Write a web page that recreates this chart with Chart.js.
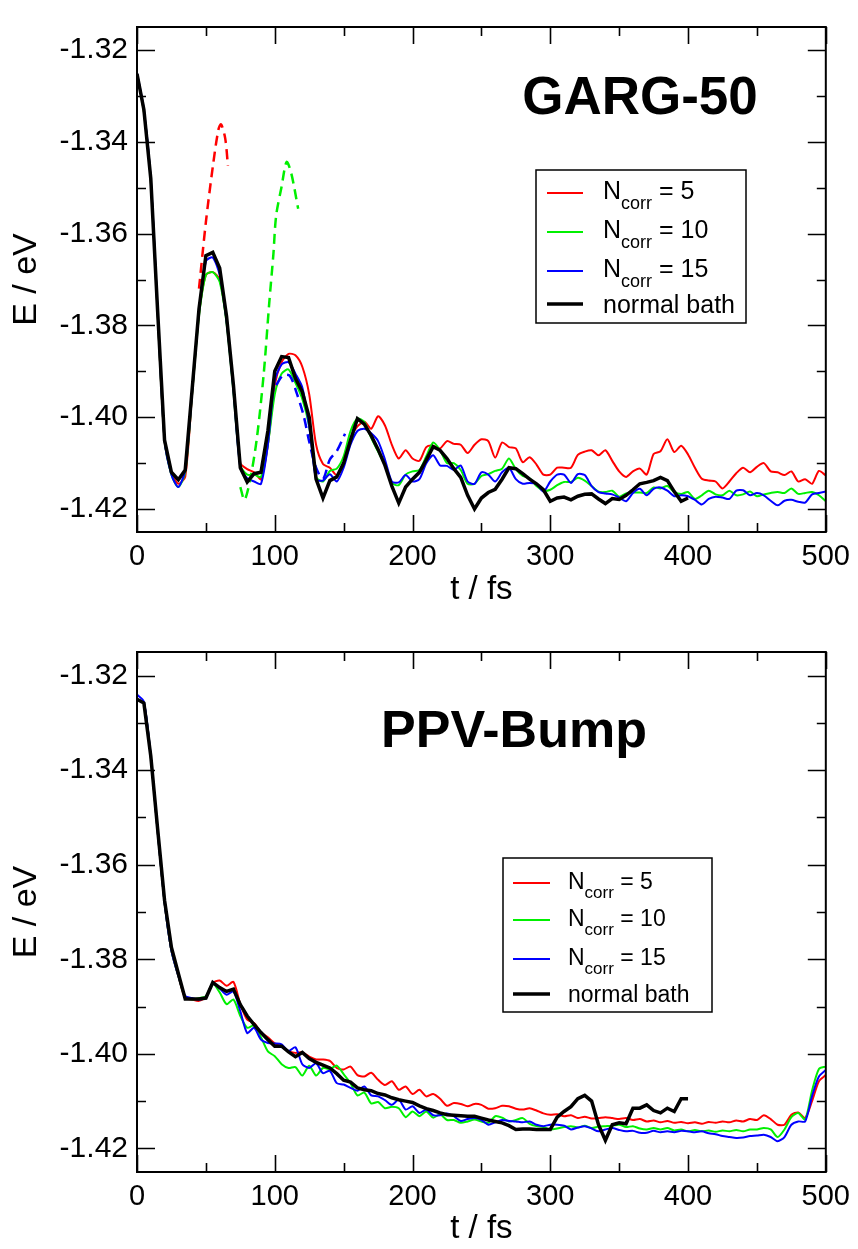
<!DOCTYPE html>
<html>
<head>
<meta charset="utf-8">
<script src="https://cdn.jsdelivr.net/npm/chart.js@4.4.1/dist/chart.umd.min.js"></script>
<style>
  html, body { margin: 0; padding: 0; background: #fff; }
  #wrap { position: relative; width: 858px; height: 1249px; }
  canvas { position: absolute; left: 0; }
</style>
</head>
<body>
<div id="wrap">
  <canvas id="gargChart" width="858" height="620" style="top:0"></canvas>
  <canvas id="ppvChart" width="858" height="629" style="top:620px"></canvas>
</div>
<script>
// time grids (fs)
function range(a, b, s) { const r = []; for (let v = a; v <= b + 1e-9; v += s) r.push(v); return r; }
const tFull = range(0, 500, 5);
const tBath = range(0, 400, 5);

const xTickVals = [0, 50, 100, 150, 200, 250, 300, 350, 400, 450, 500];
const yTickVals = [-1.42, -1.41, -1.40, -1.39, -1.38, -1.37, -1.36, -1.35, -1.34, -1.33, -1.32];

// ---- GARG-50 ----
const gargN5 = [
  -1.3252, -1.3335, -1.3485, -1.3775, -1.4050, -1.4120, -1.4145, -1.4130, -1.3950, -1.3775,
  -1.3690, -1.3684, -1.3700, -1.3790, -1.3935, -1.4100, -1.4113, -1.4120, -1.4135, -1.4060,
  -1.3930, -1.3880, -1.3862, -1.3865, -1.3890, -1.3950, -1.4060, -1.4102, -1.4110, -1.4126,
  -1.4100, -1.4045, -1.4020, -1.4010, -1.4025, -1.3998, -1.4018, -1.4060, -1.4090, -1.4072,
  -1.4090, -1.4095, -1.4065, -1.4062, -1.4068, -1.4052, -1.4058, -1.4060, -1.4078, -1.4060,
  -1.4048, -1.4052, -1.4088, -1.4055, -1.4065, -1.4068, -1.4098, -1.4087, -1.4103, -1.4125,
  -1.4125, -1.4110, -1.4110, -1.4110, -1.4082, -1.4075, -1.4072, -1.4083, -1.4072, -1.4095,
  -1.4118, -1.4130, -1.4118, -1.4112, -1.4125, -1.4080, -1.4074, -1.4048, -1.4076, -1.4062,
  -1.4081, -1.4110, -1.4134, -1.4138, -1.4140, -1.4155, -1.4140, -1.4122, -1.4110, -1.4120,
  -1.4108, -1.4100, -1.4118, -1.4120, -1.4126, -1.4118, -1.4140, -1.4135, -1.4145, -1.4117,
  -1.4127
];
const gargN10 = [
  -1.3252, -1.3335, -1.3485, -1.3775, -1.4050, -1.4125, -1.4152, -1.4120, -1.3950, -1.3780,
  -1.3690, -1.3684, -1.3705, -1.3795, -1.3945, -1.4105, -1.4125, -1.4125, -1.4130, -1.4060,
  -1.3950, -1.3905, -1.3896, -1.3925, -1.3960, -1.4020, -1.4130, -1.4140, -1.4117, -1.4112,
  -1.4085, -1.4030, -1.4003, -1.4010, -1.4045, -1.4075, -1.4105, -1.4143, -1.4148, -1.4125,
  -1.4118, -1.4115, -1.4085, -1.4055, -1.4072, -1.4100, -1.4100, -1.4115, -1.4145, -1.4145,
  -1.4128, -1.4124, -1.4117, -1.4112, -1.4090, -1.4113, -1.4128, -1.4133, -1.4150, -1.4160,
  -1.4158, -1.4148, -1.4141, -1.4141, -1.4132, -1.4138, -1.4150, -1.4162, -1.4163, -1.4160,
  -1.4173, -1.4166, -1.4164, -1.4164, -1.4165, -1.4153, -1.4155, -1.4150, -1.4163, -1.4167,
  -1.4163, -1.4178, -1.4170, -1.4160, -1.4168, -1.4170, -1.4160, -1.4170, -1.4168, -1.4162,
  -1.4172, -1.4168, -1.4165, -1.4163, -1.4165, -1.4155, -1.4167, -1.4165, -1.4163, -1.4170,
  -1.4183
];
const gargN15 = [
  -1.3250, -1.3330, -1.3480, -1.3770, -1.4050, -1.4125, -1.4152, -1.4115, -1.3945, -1.3770,
  -1.3660, -1.3652, -1.3690, -1.3790, -1.3940, -1.4110, -1.4133, -1.4140, -1.4145, -1.4060,
  -1.3920, -1.3885, -1.3880, -1.3905, -1.3935, -1.4020, -1.4135, -1.4138, -1.4124, -1.4140,
  -1.4110, -1.4060, -1.4030, -1.4025, -1.4035, -1.4052, -1.4092, -1.4140, -1.4142, -1.4126,
  -1.4140, -1.4135, -1.4100, -1.4083, -1.4105, -1.4106, -1.4115, -1.4105, -1.4140, -1.4145,
  -1.4120, -1.4125, -1.4140, -1.4120, -1.4110, -1.4135, -1.4145, -1.4143, -1.4145, -1.4162,
  -1.4140, -1.4125, -1.4125, -1.4143, -1.4124, -1.4126, -1.4150, -1.4163, -1.4166, -1.4168,
  -1.4175, -1.4183, -1.4165, -1.4156, -1.4170, -1.4156, -1.4153, -1.4160, -1.4172, -1.4170,
  -1.4172, -1.4180, -1.4190, -1.4178, -1.4173, -1.4175, -1.4178, -1.4160, -1.4159, -1.4170,
  -1.4165, -1.4170, -1.4182, -1.4192, -1.4182, -1.4180, -1.4184, -1.4186, -1.4168, -1.4165,
  -1.4162
];
const gargBath = [
  -1.3252, -1.3330, -1.3480, -1.3770, -1.4050, -1.4120, -1.4136, -1.4115, -1.3940, -1.3764,
  -1.3648, -1.3641, -1.3675, -1.3780, -1.3930, -1.4110, -1.4141, -1.4123, -1.4120, -1.4030,
  -1.3900, -1.3868, -1.3870, -1.3915, -1.3945, -1.4000, -1.4135, -1.4176, -1.4138, -1.4130,
  -1.4100, -1.4050, -1.4003, -1.4015, -1.4040, -1.4070, -1.4105, -1.4150, -1.4187, -1.4152,
  -1.4135, -1.4120, -1.4093, -1.4064, -1.4072, -1.4090, -1.4112, -1.4131, -1.4170, -1.4200,
  -1.4176, -1.4164, -1.4157, -1.4135, -1.4110, -1.4112, -1.4123, -1.4135, -1.4145, -1.4158,
  -1.4183, -1.4176, -1.4174, -1.4180, -1.4172, -1.4168, -1.4167, -1.4178, -1.4188, -1.4177,
  -1.4179, -1.4170, -1.4158, -1.4145, -1.4142, -1.4138, -1.4131, -1.4138, -1.4162, -1.4183,
  -1.4176
];
// dashed branches
const gargN5DashT = [45, 50, 55, 59, 61, 64, 66];
const gargN5Dash = [-1.3720, -1.3575, -1.3455, -1.3375, -1.3362, -1.3392, -1.3452];
const gargN10DashT = [75, 78, 82, 87, 92, 96, 99, 101, 105, 108.6, 112, 117];
const gargN10Dash = [-1.4152, -1.4180, -1.4138, -1.4046, -1.3905, -1.3751, -1.3645, -1.3561, -1.3497, -1.3444, -1.3469, -1.3546];
const gargN15DashT = [101, 106, 111, 116, 121, 125, 130, 135, 140, 145, 151];
const gargN15Dash = [-1.3930, -1.3909, -1.3910, -1.3948, -1.3997, -1.4053, -1.4110, -1.4134, -1.4092, -1.4074, -1.4036];

// ---- PPV-Bump ----
const ppvN5 = [
  -1.3250, -1.3258, -1.3372, -1.3530, -1.3680, -1.3782, -1.3835, -1.3882, -1.3885, -1.3888,
  -1.3880, -1.3850, -1.3845, -1.3856, -1.3848, -1.3895, -1.3928, -1.3935, -1.3955, -1.3965,
  -1.3978, -1.3985, -1.3995, -1.3998, -1.3997, -1.4006, -1.4012, -1.4012, -1.4015, -1.4030,
  -1.4033, -1.4027, -1.4045, -1.4048, -1.4040, -1.4055, -1.4066, -1.4058, -1.4076, -1.4069,
  -1.4085, -1.4076, -1.4090, -1.4085, -1.4095, -1.4110, -1.4104, -1.4106, -1.4111, -1.4106,
  -1.4108, -1.4116, -1.4115, -1.4110, -1.4111, -1.4116, -1.4118, -1.4115, -1.4120, -1.4126,
  -1.4129, -1.4128, -1.4132, -1.4130, -1.4136, -1.4133, -1.4137, -1.4136, -1.4134, -1.4136,
  -1.4138, -1.4136, -1.4140, -1.4138, -1.4143, -1.4141, -1.4145, -1.4142, -1.4146, -1.4144,
  -1.4147, -1.4145, -1.4148, -1.4144, -1.4146, -1.4143, -1.4145, -1.4141, -1.4143, -1.4138,
  -1.4140, -1.4130, -1.4138, -1.4150, -1.4150, -1.4129, -1.4124, -1.4136, -1.4100, -1.4058,
  -1.4045
];
const ppvN10 = [
  -1.3250, -1.3258, -1.3372, -1.3530, -1.3680, -1.3782, -1.3835, -1.3880, -1.3885, -1.3882,
  -1.3878, -1.3852, -1.3870, -1.3895, -1.3885, -1.3920, -1.3945, -1.3940, -1.3965, -1.3995,
  -1.4005, -1.4022, -1.4030, -1.4028, -1.4046, -1.4025, -1.4046, -1.4030, -1.4032, -1.4025,
  -1.4043, -1.4062, -1.4088, -1.4082, -1.4105, -1.4102, -1.4115, -1.4112, -1.4115, -1.4134,
  -1.4122, -1.4132, -1.4122, -1.4135, -1.4128, -1.4140, -1.4140, -1.4146, -1.4143, -1.4139,
  -1.4143, -1.4146, -1.4132, -1.4135, -1.4143, -1.4140, -1.4136, -1.4148, -1.4153, -1.4155,
  -1.4160, -1.4158, -1.4155, -1.4153, -1.4156, -1.4152, -1.4157, -1.4154, -1.4153, -1.4152,
  -1.4150, -1.4155, -1.4153, -1.4158, -1.4160, -1.4157, -1.4160, -1.4157, -1.4162, -1.4160,
  -1.4164, -1.4161, -1.4164, -1.4162, -1.4165, -1.4162, -1.4164, -1.4161, -1.4164, -1.4160,
  -1.4160, -1.4157, -1.4160, -1.4176, -1.4160, -1.4134, -1.4125, -1.4139, -1.4078, -1.4032,
  -1.4027
];
const ppvN15 = [
  -1.3240, -1.3255, -1.3370, -1.3530, -1.3680, -1.3782, -1.3835, -1.3878, -1.3882, -1.3885,
  -1.3880, -1.3852, -1.3862, -1.3875, -1.3868, -1.3910, -1.3956, -1.3945, -1.3970, -1.3977,
  -1.3978, -1.3980, -1.3994, -1.3986, -1.4022, -1.4030, -1.4020, -1.4041, -1.4036, -1.4062,
  -1.4065, -1.4072, -1.4078, -1.4069, -1.4088, -1.4090, -1.4098, -1.4108, -1.4097, -1.4118,
  -1.4111, -1.4125, -1.4118, -1.4130, -1.4130, -1.4126, -1.4132, -1.4142, -1.4138, -1.4136,
  -1.4140, -1.4150, -1.4145, -1.4140, -1.4142, -1.4143, -1.4145, -1.4143, -1.4150, -1.4153,
  -1.4150, -1.4150, -1.4152, -1.4160, -1.4156, -1.4153, -1.4158, -1.4164, -1.4160, -1.4157,
  -1.4161, -1.4164, -1.4163, -1.4167, -1.4167, -1.4163, -1.4166, -1.4164, -1.4166, -1.4163,
  -1.4164, -1.4166, -1.4164, -1.4168, -1.4170, -1.4174, -1.4176, -1.4178, -1.4177, -1.4174,
  -1.4173, -1.4171, -1.4176, -1.4185, -1.4176, -1.4150, -1.4143, -1.4143, -1.4090, -1.4048,
  -1.4034
];
const ppvBath = [
  -1.3250, -1.3258, -1.3370, -1.3525, -1.3675, -1.3775, -1.3830, -1.3884, -1.3884, -1.3884,
  -1.3882, -1.3849, -1.3860, -1.3868, -1.3863, -1.3896, -1.3920, -1.3938, -1.3955, -1.3970,
  -1.3984, -1.3984, -1.3996, -1.4006, -1.3997, -1.4010, -1.4018, -1.4024, -1.4030, -1.4042,
  -1.4056, -1.4060, -1.4072, -1.4076, -1.4078, -1.4084, -1.4087, -1.4093, -1.4097, -1.4100,
  -1.4103, -1.4110, -1.4116, -1.4120, -1.4125, -1.4129, -1.4130, -1.4131, -1.4132, -1.4132,
  -1.4136, -1.4140, -1.4143, -1.4146, -1.4152, -1.4160, -1.4159, -1.4159, -1.4160, -1.4160,
  -1.4160, -1.4134, -1.4122, -1.4112, -1.4095, -1.4088, -1.4100, -1.4150, -1.4183, -1.4150,
  -1.4146, -1.4148, -1.4115, -1.4115, -1.4108, -1.4120, -1.4125, -1.4115, -1.4122, -1.4095,
  -1.4095
];

const legendLabels = [
  { main: 'N', sub: 'corr', rest: ' = 5' },
  { main: 'N', sub: 'corr', rest: ' = 10' },
  { main: 'N', sub: 'corr', rest: ' = 15' },
  { main: 'normal bath', sub: '', rest: '' }
];

const FONT = "'Liberation Sans', Arial, Helvetica, sans-serif";
const RED = '#ff0000', GREEN = '#00f000', BLUE = '#0000ff', BLACK = '#000000';

function pts(ts, vs) { return vs.map((v, i) => ({ x: ts[i], y: v })); }

function solid(label, ts, vs, color, width, order, tension) {
  return { label, data: pts(ts, vs), borderColor: color, borderWidth: width,
    pointRadius: 0, tension: tension, fill: false, order };
}
function dashed(ts, vs, color, order) {
  return { label: '', data: pts(ts, vs), borderColor: color, borderWidth: 2.5,
    borderDash: [10, 6], pointRadius: 0, tension: 0.3, fill: false, order };
}

// frame + inward ticks on all four sides
const frameTicks = {
  id: 'frameTicks',
  afterDraw(chart) {
    const { ctx, chartArea: a, scales: { x, y } } = chart;
    ctx.save();
    ctx.strokeStyle = '#000';
    ctx.lineWidth = 1.6;
    xTickVals.forEach(v => {
      const px = Math.round(x.getPixelForValue(v)) + 0.5;
      const len = v % 100 === 0 ? 17 : 9;
      ctx.beginPath();
      ctx.moveTo(px, a.bottom); ctx.lineTo(px, a.bottom - len);
      ctx.moveTo(px, a.top); ctx.lineTo(px, a.top + len);
      ctx.stroke();
    });
    yTickVals.forEach(v => {
      const py = Math.round(y.getPixelForValue(v)) + 0.5;
      const len = Math.round(v * 100) % 2 === 0 ? 18 : 9;
      ctx.beginPath();
      ctx.moveTo(a.left, py); ctx.lineTo(a.left + len, py);
      ctx.moveTo(a.right, py); ctx.lineTo(a.right - len, py);
      ctx.stroke();
    });
    ctx.lineWidth = 2;
    ctx.strokeRect(a.left, a.top, a.right - a.left, a.bottom - a.top);
    ctx.restore();
  }
};

// legend box with subscripts + panel title
const panelDecor = {
  id: 'panelDecor',
  afterDraw(chart, args, o) {
    const ctx = chart.ctx;
    ctx.save();
    ctx.fillStyle = '#000';
    ctx.font = 'bold ' + o.titleSize + 'px ' + FONT;
    ctx.textAlign = 'center';
    ctx.textBaseline = 'alphabetic';
    ctx.fillText(o.title, o.titleX, o.titleY);

    const [bx, by, bw, bh] = o.box;
    ctx.fillStyle = '#fff';
    ctx.fillRect(bx, by, bw, bh);
    ctx.strokeStyle = '#000';
    ctx.lineWidth = 1.5;
    ctx.strokeRect(bx, by, bw, bh);
    ctx.textAlign = 'left';
    const sets = chart.data.datasets.filter(d => d.label);
    sets.forEach((d, i) => {
      const ly = o.rowY[i];
      ctx.strokeStyle = d.borderColor;
      ctx.lineWidth = d.borderWidth;
      ctx.beginPath();
      ctx.moveTo(o.lineX[0], ly); ctx.lineTo(o.lineX[1], ly);
      ctx.stroke();
      const lab = legendLabels[i];
      ctx.fillStyle = '#000';
      let tx = o.textX;
      const base = ly + (lab.sub ? o.baseN : o.baseText);
      ctx.font = o.fontSize + 'px ' + FONT;
      ctx.fillText(lab.main, tx, base);
      tx += ctx.measureText(lab.main).width;
      if (lab.sub) {
        ctx.font = o.subSize + 'px ' + FONT;
        ctx.fillText(lab.sub, tx, base + o.subDrop);
        tx += ctx.measureText(lab.sub).width;
        ctx.font = o.fontSize + 'px ' + FONT;
        ctx.fillText(lab.rest, tx, base);
      }
    });
    ctx.restore();
  }
};

function makeChart(id, sets, padTop, xHeight, xTitlePad, decor) {
  return new Chart(document.getElementById(id), {
    type: 'line',
    data: { datasets: sets },
    options: {
      responsive: false,
      animation: false,
      devicePixelRatio: 1,
      layout: { padding: { top: padTop, right: 29, left: 0, bottom: 0 } },
      plugins: { legend: { display: false }, tooltip: { enabled: false }, panelDecor: decor },
      scales: {
        x: {
          type: 'linear', min: 0, max: 500,
          grid: { display: false, drawTicks: false },
          border: { display: false },
          ticks: { stepSize: 100, color: '#000', padding: 8, font: { family: FONT, size: 29 } },
          title: { display: true, text: 't / fs', color: '#000',
            font: { family: FONT, size: 33 }, padding: { top: 0, bottom: xTitlePad } },
          afterFit(s) { s.height = xHeight; }
        },
        y: {
          min: -1.425, max: -1.315,
          grid: { display: false, drawTicks: false },
          border: { display: false },
          ticks: { stepSize: 0.02, includeBounds: false, color: '#000', padding: 9,
            font: { family: FONT, size: 30 }, callback: v => v.toFixed(2) },
          title: { display: true, text: 'E / eV', color: '#000',
            font: { family: FONT, size: 34 }, padding: { top: 6, bottom: 0 } },
          afterFit(s) { s.width = 137; }
        }
      }
    },
    plugins: [frameTicks, panelDecor]
  });
}

makeChart('gargChart', [
  solid('N5', tFull, gargN5, RED, 2, 5, 0.25),
  solid('N10', tFull, gargN10, GREEN, 2, 4, 0.25),
  solid('N15', tFull, gargN15, BLUE, 2, 3, 0.25),
  solid('bath', tBath, gargBath, BLACK, 3.5, 0, 0),
  dashed(gargN5DashT, gargN5Dash, RED, 1),
  dashed(gargN10DashT, gargN10Dash, GREEN, 1),
  dashed(gargN15DashT, gargN15Dash, BLUE, 1)
], 13, 88, 10, {
  title: 'GARG-50', titleSize: 53, titleX: 640, titleY: 114,
  box: [536, 170, 210, 153], rowY: [193, 232, 271, 304], lineX: [547, 583], textX: 603,
  fontSize: 25, subSize: 18, subDrop: 10, baseN: 6, baseText: 9
});

makeChart('ppvChart', [
  solid('N5', tFull, ppvN5, RED, 2, 5, 0.25),
  solid('N10', tFull, ppvN10, GREEN, 2, 4, 0.25),
  solid('N15', tFull, ppvN15, BLUE, 2, 3, 0.25),
  solid('bath', tBath, ppvBath, BLACK, 3.5, 0, 0)
], 32, 77, 0, {
  title: 'PPV-Bump', titleSize: 52, titleX: 514, titleY: 127,
  box: [503, 238, 209, 154], rowY: [263, 300, 339, 374], lineX: [513, 550], textX: 568,
  fontSize: 23, subSize: 17, subDrop: 9, baseN: 6, baseText: 8
});
</script>
</body>
</html>
